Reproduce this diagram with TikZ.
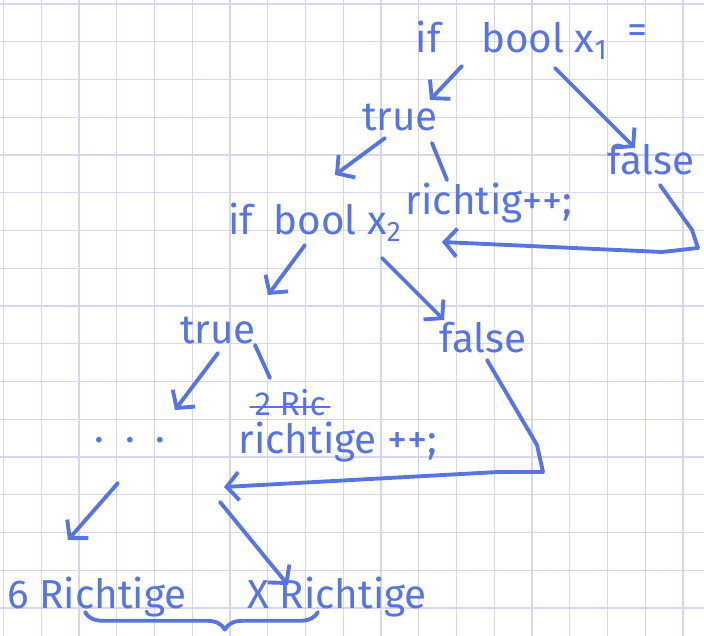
\documentclass[tikz,border=0pt]{standalone}
\usepackage{fontspec}
\setmainfont{Fira Sans}
\usetikzlibrary{arrows.meta,decorations.pathreplacing}
\definecolor{ink}{RGB}{88,116,224}
\definecolor{gridline}{RGB}{214,214,238}

\begin{document}
\begin{tikzpicture} [
    x=0.02cm, y=-0.02cm,
    txt/.style={text=ink, font=\fontsize{23}{27}\selectfont, inner sep=1pt},
    pen/.style={draw=ink, line width=2.2pt, line cap=round, line join=round},
    arrow/.style={pen, -{Straight Barb[length=7pt,width=16pt]}}
]
    \useasboundingbox (0,0) rectangle (704,636);

    % Karopapier
    \foreach \k in {0,...,18}
        \draw[gridline, line width=0.8pt] (3.5+37.75*\k,0) -- (3.5+37.75*\k,636);
    \foreach \k in {0,...,16}
        \draw[gridline, line width=0.8pt] (0,4+37.75*\k) -- (704,4+37.75*\k);

    % erste Abfrage
    \node[txt] (if1) at (532,40) {if\quad bool x\textsubscript{1}\enspace\raisebox{5pt}{=}};
    \node[txt] (true1) at (400,117) {true};
    \node[txt] (false1) at (651,160) {false};
    \node[txt] (inc1) at (489,203) {richtig++;};
    \coordinate (t1end) at (335,175);

    % zweite Abfrage
    \node[txt] (if2) at (315,222) {if\enspace bool x\textsubscript{2}};
    \node[txt] (true2) at (218,330) {true};
    \node[txt] (false2) at (483,338) {false};
    \node[txt, font=\fontsize{19}{22}\selectfont] (ric) at (290,403) {2 Ric};
    \node[txt] (inc2) at (338,442) {richtige ++;};
    \node[txt] (dots) at (130,440) {.\hspace{12pt}.\hspace{12pt}.};
    \coordinate (back) at (224,487);

    % Ergebnis
    \node[txt] (six) at (97,597) {6 Richtige};
    \node[txt] (xr) at (337,597) {X Richtige};

    % Verbindungen
    \draw[arrow] ([shift={(-70,26)}]if1.center) -- ([shift={(30,-17)}]true1.center);
    \draw[arrow] ([shift={(23,28)}]if1.center) -- ([shift={(-16,-12)}]false1.center);
    \draw[arrow] ([shift={(-15,21)}]true1.center) -- (t1end);
    \draw[pen] ([shift={(32,26)}]true1.center) -- ([shift={(-42,-23)}]inc1.center);
    \draw[arrow] ([shift={(9,25)}]false1.center) -- ++(32,45) -- ++(6,18) -- ++(-36,4)
        -- ([shift={(127,20)}]if2.center);
    \draw[arrow] ([shift={(-10,23)}]if2.center) -- ([shift={(50,-35)}]true2.center);
    \draw[arrow] ([shift={(67,36)}]if2.center) -- ([shift={(-39,-18)}]false2.center);
    \draw[arrow] ([shift={(0,23)}]true2.center) -- ([shift={(45,-30)}]dots.center);
    \draw[pen] ([shift={(37,15)}]true2.center) -- ([shift={(-20,-25)}]ric.center);
    \draw[pen, line width=1.6pt] ([shift={(-2,4)}]ric.west) -- ([shift={(2,4)}]ric.east);
    \draw[arrow] ([shift={(4,22)}]false2.center) -- ++(50,85) -- ++(6,27) -- ++(-45,0) -- (back);
    \draw[arrow] ([shift={(-12,43)}]dots.center) -- ([shift={(-29,-57)}]six.center);
    \draw[arrow] ([shift={(-4,15)}]back) -- ([shift={(-49,-12)}]xr.center);
    \draw[pen, decorate, decoration={brace, mirror, amplitude=10pt, aspect=0.6}]
        ([shift={(-12,15)}]six.center) -- ([shift={(-19,15)}]xr.center);
\end{tikzpicture}
\end{document}
